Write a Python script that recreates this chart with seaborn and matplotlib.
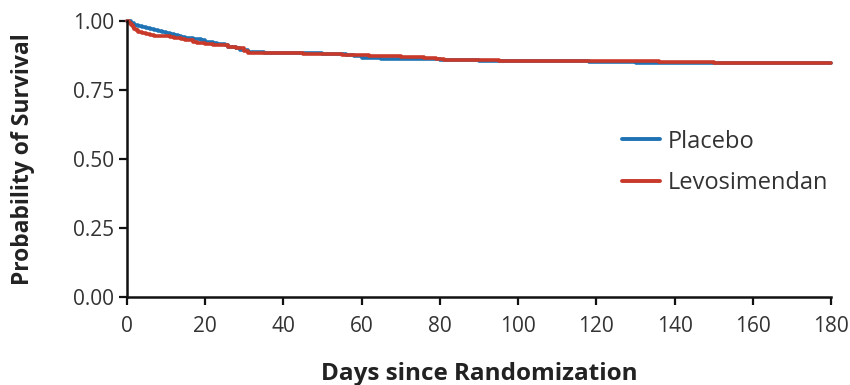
import matplotlib
matplotlib.use("Agg")
import matplotlib.pyplot as plt
from matplotlib.lines import Line2D
import seaborn as sns
import pandas as pd

# Kaplan-Meier step estimates by treatment group
placebo_days = [0, 1, 2, 3, 4, 5, 6, 7, 8, 9, 10, 11, 12, 13, 14, 15, 17, 19, 20, 22,
                23, 25, 26, 28, 29, 31, 35, 42, 50, 56, 58, 60, 65, 72, 80, 90, 100,
                110, 118, 130, 140, 150, 180]
placebo_surv = [1.000, 0.992, 0.986, 0.982, 0.978, 0.975, 0.971, 0.968, 0.965, 0.962,
                0.958, 0.955, 0.951, 0.947, 0.944, 0.940, 0.935, 0.930, 0.925, 0.920,
                0.916, 0.912, 0.906, 0.901, 0.896, 0.888, 0.886, 0.884, 0.881, 0.877,
                0.872, 0.866, 0.864, 0.862, 0.858, 0.856, 0.855, 0.854, 0.851, 0.850,
                0.850, 0.848, 0.848]

levo_days = [0, 0.5, 1, 1.5, 2, 2.5, 3, 4, 5, 6, 7, 9, 11, 12, 14, 15, 17, 18, 20, 22,
             24, 26, 28, 30, 31, 35, 45, 55, 62, 70, 76, 79, 81, 95, 110, 125, 136,
             150, 180]
levo_surv = [1.000, 0.992, 0.985, 0.978, 0.972, 0.967, 0.962, 0.957, 0.954, 0.951,
             0.948, 0.945, 0.941, 0.938, 0.934, 0.930, 0.926, 0.922, 0.918, 0.915,
             0.912, 0.908, 0.902, 0.893, 0.886, 0.885, 0.882, 0.876, 0.873, 0.871,
             0.868, 0.863, 0.858, 0.857, 0.856, 0.855, 0.853, 0.849, 0.849]

groups = ["Placebo", "Levosimendan"]
colors = {"Placebo": "#1f72b3", "Levosimendan": "#c8392a"}

x_ticks = [0, 20, 40, 60, 80, 100, 120, 140, 160, 180]
y_ticks = [0.00, 0.25, 0.50, 0.75, 1.00]

df = pd.concat([
    pd.DataFrame({"day": placebo_days, "surv": placebo_surv, "group": "Placebo"}),
    pd.DataFrame({"day": levo_days, "surv": levo_surv, "group": "Levosimendan"}),
], ignore_index=True)

sns.set_theme(style="ticks")
plt.rcParams["font.family"] = ["Open Sans", "DejaVu Sans"]

fig = plt.figure(figsize=(8.5, 3.85), dpi=100)
ax = fig.add_axes([0.149, 0.229, 0.829, 0.716])

sns.lineplot(data=df, x="day", y="surv", hue="group", hue_order=groups,
             palette=colors, drawstyle="steps-post", linewidth=2.6,
             estimator=None, ax=ax, legend=False)

ax.set_xlim(0, 180)
ax.set_ylim(0, 1.0)
ax.set_xticks(x_ticks)
ax.set_yticks(y_ticks)
ax.set_xticklabels([str(t) for t in x_ticks], fontsize=15, color="#333333")
ax.set_yticklabels([f"{t:.2f}" for t in y_ticks], fontsize=15, color="#333333")
for line in ax.get_lines():
    line.set_clip_on(False)

sns.despine(ax=ax)
for side in ("left", "bottom"):
    ax.spines[side].set_linewidth(1.8)
    ax.spines[side].set_color("#111111")
ax.tick_params(axis="both", length=6, width=1.6, color="#111111")
ax.tick_params(axis="x", pad=8)
ax.tick_params(axis="y", pad=3)

ax.set_xlabel("Days since Randomization", fontsize=17.5, fontweight="bold",
              color="#222222", labelpad=18)
ax.set_ylabel("Probability of Survival", fontsize=16.5, fontweight="bold",
              color="#222222", labelpad=27)

handles = [Line2D([], [], color=colors[g], linewidth=2.8) for g in groups]
ax.legend(handles, groups, loc="center left", bbox_to_anchor=(0.703, 0.487),
          frameon=False, fontsize=17, handlelength=1.6, handletextpad=0.35,
          labelspacing=0.75, borderpad=0, borderaxespad=0, labelcolor="#333333")

fig.savefig("out.png", dpi=100)
